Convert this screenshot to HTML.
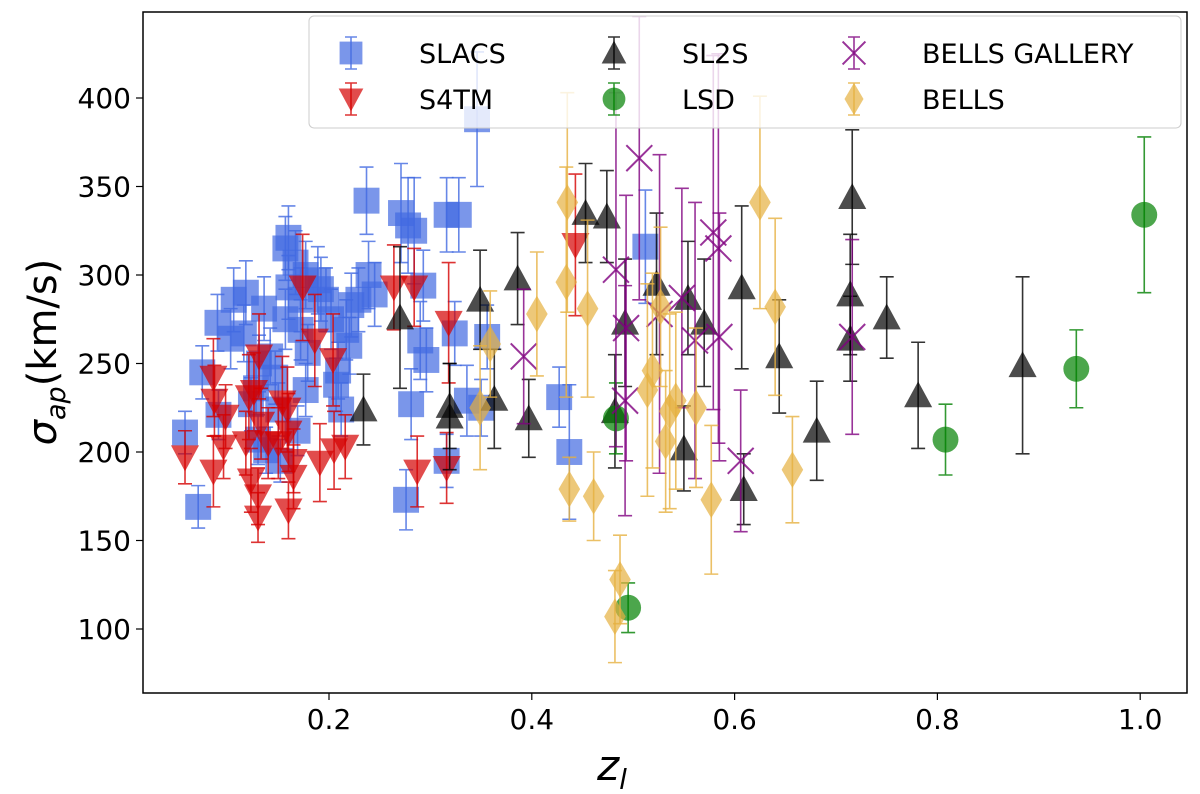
<!DOCTYPE html>
<html><head><meta charset="utf-8"><style>
body{margin:0;background:#fff;}
svg text{font-family:"DejaVu Sans","Liberation Sans",sans-serif;}
</style></head><body>
<svg id="chart" width="1200" height="789" xmlns="http://www.w3.org/2000/svg">
<g id="marks"></g>
<rect x="143" y="12" width="1044" height="681" fill="none" stroke="#000" stroke-width="1.5"/>
<g id="axes"></g>
<text x="612" y="780" font-size="42" font-style="italic" text-anchor="middle">z<tspan font-size="28" dy="9">l</tspan></text>
<text transform="translate(56,352) rotate(-90)" font-size="40" text-anchor="middle"><tspan font-style="italic">σ</tspan><tspan font-size="27" dy="9" font-style="italic">ap</tspan><tspan dy="-9">(km/s)</tspan></text>
<g id="legend"></g>
</svg>
<script>
const xTicks=[0.2,0.4,0.6,0.8,1.0];
const xTickLabels=["0.2","0.4","0.6","0.8","1.0"];
const yTicks=[100,150,200,250,300,350,400];
const yTickLabels=["100","150","200","250","300","350","400"];
const slacsZ=[0.058,0.071,0.075,0.090,0.103,0.106,0.116,0.118,0.123,0.091,0.128,0.131,0.136,0.142,0.147,0.150,0.157,0.160,0.160,0.157,0.167,0.169,0.172,0.172,0.177,0.177,0.179,0.189,0.192,0.197,0.202,0.207,0.209,0.212,0.217,0.220,0.222,0.229,0.237,0.239,0.245,0.130,0.138,0.152,0.271,0.276,0.278,0.281,0.284,0.290,0.293,0.296,0.316,0.316,0.324,0.328,0.336,0.346,0.427,0.437,0.512,0.356,0.350];
const slacsS=[211,169,245,273,264,286,267,290,227,221,236,250,281,254,242,224,275,321,293,315,307,212,286,269,300,235,256,297,292,286,275,238,246,224,269,260,283,286,342,300,289,207,201,195,335,173,328,227,325,263,294,252,334,195,267,334,229,388,231,200,316,265,225];
const slacsE=[12,12,15,16,17,18,16,18,15,14,15,16,18,16,15,15,17,18,18,18,18,14,18,17,19,15,16,19,18,18,17,15,16,15,17,16,18,18,19,19,18,14,13,12,28,17,27,20,30,22,20,18,21,15,18,21,20,38,17,38,32,18,16];
const s4tmZ=[0.058,0.086,0.086,0.087,0.098,0.096,0.121,0.126,0.131,0.133,0.118,0.123,0.130,0.130,0.140,0.154,0.159,0.160,0.150,0.165,0.165,0.160,0.174,0.186,0.191,0.204,0.205,0.216,0.264,0.284,0.318,0.287,0.316,0.443];
const s4tmS=[197,189,242,229,220,203,231,234,254,216,205,184,175,163,205,228,224,211,205,195,186,167,293,263,194,252,201,203,293,293,273,189,191,317];
const s4tmE=[15,20,22,20,18,18,24,22,24,20,18,18,16,14,20,26,24,22,20,18,18,16,30,26,22,26,22,18,24,22,34,20,20,40];
const sl2sZ=[0.234,0.270,0.319,0.319,0.349,0.386,0.363,0.397,0.453,0.474,0.523,0.492,0.554,0.570,0.550,0.482,0.607,0.644,0.609,0.681,0.716,0.714,0.714,0.750,0.781,0.884];
const sl2sS=[224,276,226,220,286,298,230,219,335,333,295,273,287,273,202,223,293,254,179,212,344,289,264,276,232,249];
const sl2sE=[20,40,24,30,28,26,28,22,28,26,40,36,32,36,24,32,46,32,20,28,38,34,24,23,30,50];
const lsdZ=[0.495,0.483,0.808,0.937,1.004];
const lsdS=[112,219,207,247,334];
const lsdE=[14,20,20,22,44];
const galZ=[0.506,0.483,0.392,0.493,0.492,0.526,0.548,0.561,0.579,0.584,0.585,0.606,0.716];
const galS=[366,303,254,270,229,278,287,263,324,315,265,195,265];
const galE=[80,100,38,75,65,90,62,78,100,110,70,40,55];
const bellsZ=[0.435,0.434,0.405,0.455,0.359,0.349,0.527,0.519,0.514,0.562,0.542,0.536,0.532,0.577,0.625,0.640,0.657,0.437,0.461,0.487,0.482];
const bellsS=[341,296,278,281,261,225,282,246,235,225,229,223,206,173,341,282,190,179,175,128,107];
const bellsE=[62,65,35,50,30,35,45,55,60,45,50,55,40,42,60,50,30,18,25,25,26];

const NS="http://www.w3.org/2000/svg";
function X(z){return 329+(z-0.2)*1014;}
function Y(s){return 629-(s-100)*1.77;}
function mk(tag,attrs,parent){const e=document.createElementNS(NS,tag);for(const k in attrs)e.setAttribute(k,attrs[k]);parent.appendChild(e);return e;}
const marks=document.getElementById('marks');
const axes=document.getElementById('axes');

xTicks.forEach((t,i)=>{
  const l=mk('line',{x1:X(t),x2:X(t),y1:693,y2:700,stroke:'#000','stroke-width':1.2},axes);
  
  
  const tx=mk('text',{x:X(t),y:729,'font-size':28,'text-anchor':'middle'},axes);
  tx.textContent=xTickLabels[i];
  
  
});
yTicks.forEach((t,i)=>{
  const l=mk('line',{x1:136,x2:143,y1:Y(t),y2:Y(t),stroke:'#000','stroke-width':1.2},axes);
  
  
  const tx=mk('text',{x:131,y:Y(t)+10,'font-size':28,'text-anchor':'end'},axes);
  tx.textContent=yTickLabels[i];
  
  
});

function marker(type,cx,cy,color,parent,sc){
  sc=sc||1.08;let e;
  if(type==='square')e=mk('rect',{x:cx-12*sc,y:cy-12*sc,width:24*sc,height:24*sc,fill:color,'fill-opacity':0.7},parent);
  else if(type==='down')e=mk('polygon',{points:`${cx-13*sc},${cy-11*sc} ${cx+13*sc},${cy-11*sc} ${cx},${cy+13*sc}`,fill:color,'fill-opacity':0.7},parent);
  else if(type==='up')e=mk('polygon',{points:`${cx-13*sc},${cy+11*sc} ${cx+13*sc},${cy+11*sc} ${cx},${cy-13*sc}`,fill:color,'fill-opacity':0.7},parent);
  else if(type==='circle')e=mk('circle',{cx:cx,cy:cy,r:12*sc,fill:color,'fill-opacity':0.7},parent);
  else if(type==='diamond')e=mk('polygon',{points:`${cx},${cy-17*sc} ${cx+10*sc},${cy} ${cx},${cy+17*sc} ${cx-10*sc},${cy}`,fill:color,'fill-opacity':0.7},parent);
  else if(type==='x')e=mk('path',{d:`M${cx-12*sc},${cy-12*sc}L${cx+12*sc},${cy+12*sc}M${cx-12*sc},${cy+12*sc}L${cx+12*sc},${cy-12*sc}`,stroke:color,'stroke-width':2,'stroke-opacity':0.8,fill:'none'},parent);
  return e;
}
function series(name,zs,ss,es,color,type){
  const g=mk('g',{},marks);
  
  
  zs.forEach((z,i)=>{
    const cx=X(z),cy=Y(ss[i]),t=Y(ss[i]+es[i]),b=Y(ss[i]-es[i]);
    const eb=mk('path',{d:`M${cx},${t}L${cx},${b}M${cx-7},${t}L${cx+7},${t}M${cx-7},${b}L${cx+7},${b}`,stroke:color,'stroke-width':1.6,'stroke-opacity':0.8,fill:'none'},g);
    
    
    const m=marker(type,cx,cy,color,g);
    
    
  });
}
series('slacs',slacsZ,slacsS,slacsE,'#4169e1','square');
series('s4tm',s4tmZ,s4tmS,s4tmE,'#d40000','down');
series('sl2s',sl2sZ,sl2sS,sl2sE,'#000000','up');
series('lsd',lsdZ,lsdS,lsdE,'#008000','circle');
series('bells-gallery',galZ,galS,galE,'#800080','x');
series('bells',bellsZ,bellsS,bellsE,'#e6b040','diamond');

const leg=document.getElementById('legend');
mk('rect',{x:309,y:16,width:872,height:112,rx:5,fill:'#fff','fill-opacity':0.8,stroke:'#ccc','stroke-width':1},leg);
const legItems=[['SLACS','#4169e1','square',351,53],['S4TM','#d40000','down',351,99],['SL2S','#000000','up',614,53],['LSD','#008000','circle',614,99],['BELLS GALLERY','#800080','x',854,53],['BELLS','#e6b040','diamond',854,99]];
legItems.forEach(it=>{
  const g=mk('g',{},leg);
  
  
  const cx=it[3],cy=it[4];
  mk('path',{d:`M${cx},${cy-16}L${cx},${cy+16}M${cx-6},${cy-16}L${cx+6},${cy-16}M${cx-6},${cy+16}L${cx+6},${cy+16}`,stroke:it[1],'stroke-width':1.6,'stroke-opacity':0.8},g);
  marker(it[2],cx,cy,it[1],g,0.95);
  const t=mk('text',{x:cx+68,y:cy+10,'font-size':27},g);
  t.textContent=it[0];
});
</script>
</body></html>
